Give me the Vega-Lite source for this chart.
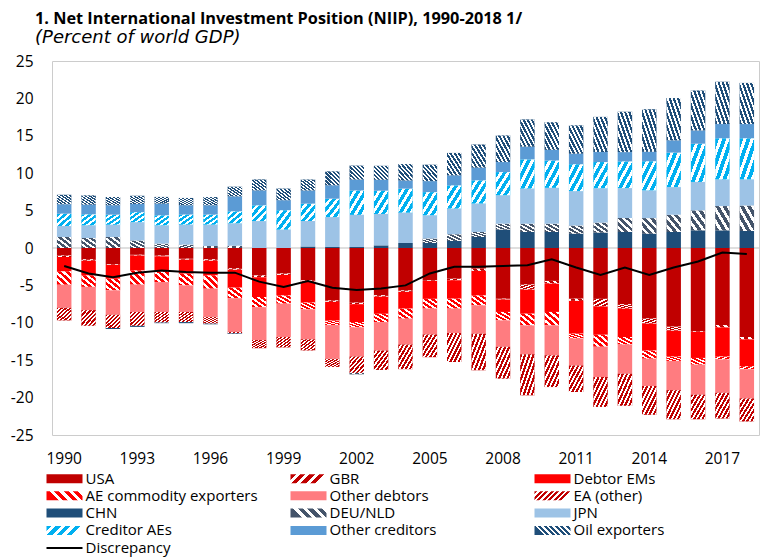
{
  "$schema": "https://vega.github.io/schema/vega-lite/v6.json",
  "width": 707,
  "height": 374,
  "autosize": "none",
  "padding": {"left": 52, "top": 61, "right": 1, "bottom": 122},
  "background": "white",
  "params": [
    {"name": "gGBR", "value": {"gradient": "linear", "x1": 0, "y1": 0, "x2": 1, "y2": 0.25, "stops": [{"offset":0,"color":"#C00000"},{"offset":0.1375,"color":"#C00000"},{"offset":0.1375,"color":"#ffffff"},{"offset":0.25,"color":"#ffffff"},{"offset":0.25,"color":"#C00000"},{"offset":0.3875,"color":"#C00000"},{"offset":0.3875,"color":"#ffffff"},{"offset":0.5,"color":"#ffffff"},{"offset":0.5,"color":"#C00000"},{"offset":0.6375,"color":"#C00000"},{"offset":0.6375,"color":"#ffffff"},{"offset":0.75,"color":"#ffffff"},{"offset":0.75,"color":"#C00000"},{"offset":0.8875,"color":"#C00000"},{"offset":0.8875,"color":"#ffffff"},{"offset":1,"color":"#ffffff"}]}},
    {"name": "gCAE", "value": {"gradient": "linear", "x1": 0, "y1": 0, "x2": 1, "y2": 0.25, "stops": [{"offset":0,"color":"#00B0F0"},{"offset":0.1375,"color":"#00B0F0"},{"offset":0.1375,"color":"#ffffff"},{"offset":0.25,"color":"#ffffff"},{"offset":0.25,"color":"#00B0F0"},{"offset":0.3875,"color":"#00B0F0"},{"offset":0.3875,"color":"#ffffff"},{"offset":0.5,"color":"#ffffff"},{"offset":0.5,"color":"#00B0F0"},{"offset":0.6375,"color":"#00B0F0"},{"offset":0.6375,"color":"#ffffff"},{"offset":0.75,"color":"#ffffff"},{"offset":0.75,"color":"#00B0F0"},{"offset":0.8875,"color":"#00B0F0"},{"offset":0.8875,"color":"#ffffff"},{"offset":1,"color":"#ffffff"}]}},
    {"name": "gAEC", "value": {"gradient": "linear", "x1": 0, "y1": 0.25, "x2": 1, "y2": 0, "stops": [{"offset":0,"color":"#FF0000"},{"offset":0.1375,"color":"#FF0000"},{"offset":0.1375,"color":"#ffffff"},{"offset":0.25,"color":"#ffffff"},{"offset":0.25,"color":"#FF0000"},{"offset":0.3875,"color":"#FF0000"},{"offset":0.3875,"color":"#ffffff"},{"offset":0.5,"color":"#ffffff"},{"offset":0.5,"color":"#FF0000"},{"offset":0.6375,"color":"#FF0000"},{"offset":0.6375,"color":"#ffffff"},{"offset":0.75,"color":"#ffffff"},{"offset":0.75,"color":"#FF0000"},{"offset":0.8875,"color":"#FF0000"},{"offset":0.8875,"color":"#ffffff"},{"offset":1,"color":"#ffffff"}]}},
    {"name": "gDEU", "value": {"gradient": "linear", "x1": 0, "y1": 0.25, "x2": 1, "y2": 0, "stops": [{"offset":0,"color":"#44546A"},{"offset":0.1375,"color":"#44546A"},{"offset":0.1375,"color":"#ffffff"},{"offset":0.25,"color":"#ffffff"},{"offset":0.25,"color":"#44546A"},{"offset":0.3875,"color":"#44546A"},{"offset":0.3875,"color":"#ffffff"},{"offset":0.5,"color":"#ffffff"},{"offset":0.5,"color":"#44546A"},{"offset":0.6375,"color":"#44546A"},{"offset":0.6375,"color":"#ffffff"},{"offset":0.75,"color":"#ffffff"},{"offset":0.75,"color":"#44546A"},{"offset":0.8875,"color":"#44546A"},{"offset":0.8875,"color":"#ffffff"},{"offset":1,"color":"#ffffff"}]}},
    {"name": "gEA", "value": {"gradient": "linear", "x1": 0, "y1": 0, "x2": 1, "y2": 0.25, "stops": [{"offset":0,"color":"#C00000"},{"offset":0.0786,"color":"#C00000"},{"offset":0.0786,"color":"#ffffff"},{"offset":0.1429,"color":"#ffffff"},{"offset":0.1429,"color":"#C00000"},{"offset":0.2214,"color":"#C00000"},{"offset":0.2214,"color":"#ffffff"},{"offset":0.2857,"color":"#ffffff"},{"offset":0.2857,"color":"#C00000"},{"offset":0.3643,"color":"#C00000"},{"offset":0.3643,"color":"#ffffff"},{"offset":0.4286,"color":"#ffffff"},{"offset":0.4286,"color":"#C00000"},{"offset":0.5071,"color":"#C00000"},{"offset":0.5071,"color":"#ffffff"},{"offset":0.5714,"color":"#ffffff"},{"offset":0.5714,"color":"#C00000"},{"offset":0.65,"color":"#C00000"},{"offset":0.65,"color":"#ffffff"},{"offset":0.7143,"color":"#ffffff"},{"offset":0.7143,"color":"#C00000"},{"offset":0.7929,"color":"#C00000"},{"offset":0.7929,"color":"#ffffff"},{"offset":0.8571,"color":"#ffffff"},{"offset":0.8571,"color":"#C00000"},{"offset":0.9357,"color":"#C00000"},{"offset":0.9357,"color":"#ffffff"},{"offset":1,"color":"#ffffff"}]}},
    {"name": "gOIL", "value": {"gradient": "linear", "x1": 0, "y1": 0.25, "x2": 1, "y2": 0, "stops": [{"offset":0,"color":"#1F4E79"},{"offset":0.0786,"color":"#1F4E79"},{"offset":0.0786,"color":"#ffffff"},{"offset":0.1429,"color":"#ffffff"},{"offset":0.1429,"color":"#1F4E79"},{"offset":0.2214,"color":"#1F4E79"},{"offset":0.2214,"color":"#ffffff"},{"offset":0.2857,"color":"#ffffff"},{"offset":0.2857,"color":"#1F4E79"},{"offset":0.3643,"color":"#1F4E79"},{"offset":0.3643,"color":"#ffffff"},{"offset":0.4286,"color":"#ffffff"},{"offset":0.4286,"color":"#1F4E79"},{"offset":0.5071,"color":"#1F4E79"},{"offset":0.5071,"color":"#ffffff"},{"offset":0.5714,"color":"#ffffff"},{"offset":0.5714,"color":"#1F4E79"},{"offset":0.65,"color":"#1F4E79"},{"offset":0.65,"color":"#ffffff"},{"offset":0.7143,"color":"#ffffff"},{"offset":0.7143,"color":"#1F4E79"},{"offset":0.7929,"color":"#1F4E79"},{"offset":0.7929,"color":"#ffffff"},{"offset":0.8571,"color":"#ffffff"},{"offset":0.8571,"color":"#1F4E79"},{"offset":0.9357,"color":"#1F4E79"},{"offset":0.9357,"color":"#ffffff"},{"offset":1,"color":"#ffffff"}]}},
    {"name": "gDISC", "value": {"gradient": "linear", "x1": 0, "y1": 0, "x2": 0, "y2": 1, "stops": [{"offset":0,"color":"rgba(255,255,255,0)"},{"offset":0.39,"color":"rgba(255,255,255,0)"},{"offset":0.39,"color":"#000000"},{"offset":0.61,"color":"#000000"},{"offset":0.61,"color":"rgba(255,255,255,0)"},{"offset":1,"color":"rgba(255,255,255,0)"}]}}
  ],
  "title": {
    "text": "1. Net International Investment Position (NIIP), 1990-2018  1/",
    "subtitle": "\u00a0\u00a0(Percent of world GDP)",
    "anchor": "start",
    "frame": "group",
    "dx": -17,
    "offset": 7,
    "font": "Open Sans",
    "fontSize": 16.3,
    "fontWeight": "bold",
    "color": "#000000",
    "subtitleFont": "DejaVu Sans",
    "subtitleFontSize": 18,
    "subtitleFontStyle": "italic",
    "subtitleColor": "#000000",
    "subtitlePadding": 2
  },
  "config": {
    "view": {"stroke": "#CCCCCC", "strokeWidth": 1},
    "axis": {"labelFont": "Open Sans", "labelFontSize": 15.5, "labelColor": "#000000", "ticks": false, "tickSize": 0, "domain": false, "grid": false, "title": null}
  },
  "data": {"values": [
{"year":1990,"series":"USA","value":-1.0},{"year":1990,"series":"GBR","value":-0.2},{"year":1990,"series":"Debtor EMs","value":-1.9},{"year":1990,"series":"AE commodity exporters","value":-1.8},{"year":1990,"series":"Other debtors","value":-3.1},{"year":1990,"series":"EA (other)","value":-1.7},{"year":1990,"series":"CHN","value":0},{"year":1990,"series":"DEU/NLD","value":1.47},{"year":1990,"series":"JPN","value":1.47},{"year":1990,"series":"Creditor AEs","value":1.65},{"year":1990,"series":"Other creditors","value":1.25},{"year":1990,"series":"Oil exporters","value":1.29},{"year":1990,"series":"Discrepancy","value":-2.4},
{"year":1991,"series":"USA","value":-1.5},{"year":1991,"series":"GBR","value":-0.2},{"year":1991,"series":"Debtor EMs","value":-1.95},{"year":1991,"series":"AE commodity exporters","value":-1.55},{"year":1991,"series":"Other debtors","value":-3.1},{"year":1991,"series":"EA (other)","value":-2.1},{"year":1991,"series":"CHN","value":0},{"year":1991,"series":"DEU/NLD","value":1.34},{"year":1991,"series":"JPN","value":1.69},{"year":1991,"series":"Creditor AEs","value":1.47},{"year":1991,"series":"Other creditors","value":1.29},{"year":1991,"series":"Oil exporters","value":1.25},{"year":1991,"series":"Discrepancy","value":-3.4},
{"year":1992,"series":"USA","value":-2.14},{"year":1992,"series":"GBR","value":-0.1},{"year":1992,"series":"Debtor EMs","value":-1.86},{"year":1992,"series":"AE commodity exporters","value":-1.56},{"year":1992,"series":"Other debtors","value":-3.25},{"year":1992,"series":"EA (other)","value":-1.78},{"year":1992,"series":"CHN","value":-0.15},{"year":1992,"series":"DEU/NLD","value":1.47},{"year":1992,"series":"JPN","value":1.65},{"year":1992,"series":"Creditor AEs","value":1.34},{"year":1992,"series":"Other creditors","value":1.25},{"year":1992,"series":"Oil exporters","value":1.11},{"year":1992,"series":"Discrepancy","value":-3.9},
{"year":1993,"series":"USA","value":-0.9},{"year":1993,"series":"GBR","value":-0.1},{"year":1993,"series":"Debtor EMs","value":-2.0},{"year":1993,"series":"AE commodity exporters","value":-1.9},{"year":1993,"series":"Other debtors","value":-3.65},{"year":1993,"series":"EA (other)","value":-1.85},{"year":1993,"series":"CHN","value":-0.15},{"year":1993,"series":"DEU/NLD","value":1.0},{"year":1993,"series":"JPN","value":2.45},{"year":1993,"series":"Creditor AEs","value":1.34},{"year":1993,"series":"Other creditors","value":1.1},{"year":1993,"series":"Oil exporters","value":1.1},{"year":1993,"series":"Discrepancy","value":-3.3},
{"year":1994,"series":"USA","value":-1.0},{"year":1994,"series":"GBR","value":-0.1},{"year":1994,"series":"Debtor EMs","value":-1.85},{"year":1994,"series":"AE commodity exporters","value":-1.6},{"year":1994,"series":"Other debtors","value":-4.0},{"year":1994,"series":"EA (other)","value":-1.4},{"year":1994,"series":"CHN","value":-0.1},{"year":1994,"series":"DEU/NLD","value":0.58},{"year":1994,"series":"JPN","value":2.45},{"year":1994,"series":"Creditor AEs","value":1.34},{"year":1994,"series":"Other creditors","value":1.56},{"year":1994,"series":"Oil exporters","value":0.9},{"year":1994,"series":"Discrepancy","value":-3.0},
{"year":1995,"series":"USA","value":-1.43},{"year":1995,"series":"GBR","value":-0.13},{"year":1995,"series":"Debtor EMs","value":-1.87},{"year":1995,"series":"AE commodity exporters","value":-1.57},{"year":1995,"series":"Other debtors","value":-3.55},{"year":1995,"series":"EA (other)","value":-1.35},{"year":1995,"series":"CHN","value":-0.15},{"year":1995,"series":"DEU/NLD","value":0.45},{"year":1995,"series":"JPN","value":2.67},{"year":1995,"series":"Creditor AEs","value":1.34},{"year":1995,"series":"Other creditors","value":1.25},{"year":1995,"series":"Oil exporters","value":0.98},{"year":1995,"series":"Discrepancy","value":-3.2},
{"year":1996,"series":"USA","value":-1.5},{"year":1996,"series":"GBR","value":-0.2},{"year":1996,"series":"Debtor EMs","value":-1.95},{"year":1996,"series":"AE commodity exporters","value":-1.79},{"year":1996,"series":"Other debtors","value":-3.76},{"year":1996,"series":"EA (other)","value":-0.9},{"year":1996,"series":"CHN","value":-0.1},{"year":1996,"series":"DEU/NLD","value":0.27},{"year":1996,"series":"JPN","value":2.85},{"year":1996,"series":"Creditor AEs","value":1.34},{"year":1996,"series":"Other creditors","value":1.25},{"year":1996,"series":"Oil exporters","value":1.1},{"year":1996,"series":"Discrepancy","value":-3.3},
{"year":1997,"series":"USA","value":-2.7},{"year":1997,"series":"GBR","value":-0.2},{"year":1997,"series":"Debtor EMs","value":-2.4},{"year":1997,"series":"AE commodity exporters","value":-1.4},{"year":1997,"series":"Other debtors","value":-4.5},{"year":1997,"series":"EA (other)","value":-0.2},{"year":1997,"series":"CHN","value":-0.1},{"year":1997,"series":"DEU/NLD","value":0.3},{"year":1997,"series":"JPN","value":3.0},{"year":1997,"series":"Creditor AEs","value":1.6},{"year":1997,"series":"Other creditors","value":2.0},{"year":1997,"series":"Oil exporters","value":1.3},{"year":1997,"series":"Discrepancy","value":-3.3},
{"year":1998,"series":"USA","value":-3.65},{"year":1998,"series":"GBR","value":-0.25},{"year":1998,"series":"Debtor EMs","value":-2.65},{"year":1998,"series":"AE commodity exporters","value":-1.35},{"year":1998,"series":"Other debtors","value":-4.4},{"year":1998,"series":"EA (other)","value":-1.1},{"year":1998,"series":"CHN","value":0},{"year":1998,"series":"DEU/NLD","value":0},{"year":1998,"series":"JPN","value":3.6},{"year":1998,"series":"Creditor AEs","value":2.1},{"year":1998,"series":"Other creditors","value":2.0},{"year":1998,"series":"Oil exporters","value":1.47},{"year":1998,"series":"Discrepancy","value":-4.5},
{"year":1999,"series":"USA","value":-3.4},{"year":1999,"series":"GBR","value":-0.2},{"year":1999,"series":"Debtor EMs","value":-2.73},{"year":1999,"series":"AE commodity exporters","value":-1.11},{"year":1999,"series":"Other debtors","value":-4.46},{"year":1999,"series":"EA (other)","value":-1.4},{"year":1999,"series":"CHN","value":0},{"year":1999,"series":"DEU/NLD","value":0},{"year":1999,"series":"JPN","value":2.45},{"year":1999,"series":"Creditor AEs","value":2.6},{"year":1999,"series":"Other creditors","value":1.34},{"year":1999,"series":"Oil exporters","value":1.56},{"year":1999,"series":"Discrepancy","value":-5.2},
{"year":2000,"series":"USA","value":-4.3},{"year":2000,"series":"GBR","value":-0.2},{"year":2000,"series":"Debtor EMs","value":-2.8},{"year":2000,"series":"AE commodity exporters","value":-0.9},{"year":2000,"series":"Other debtors","value":-4.0},{"year":2000,"series":"EA (other)","value":-1.5},{"year":2000,"series":"CHN","value":0.2},{"year":2000,"series":"DEU/NLD","value":0},{"year":2000,"series":"JPN","value":3.4},{"year":2000,"series":"Creditor AEs","value":2.3},{"year":2000,"series":"Other creditors","value":1.8},{"year":2000,"series":"Oil exporters","value":1.45},{"year":2000,"series":"Discrepancy","value":-4.4},
{"year":2001,"series":"USA","value":-7.0},{"year":2001,"series":"GBR","value":-0.2},{"year":2001,"series":"Debtor EMs","value":-2.5},{"year":2001,"series":"AE commodity exporters","value":-0.6},{"year":2001,"series":"Other debtors","value":-4.5},{"year":2001,"series":"EA (other)","value":-1.1},{"year":2001,"series":"CHN","value":0.13},{"year":2001,"series":"DEU/NLD","value":0},{"year":2001,"series":"JPN","value":4.0},{"year":2001,"series":"Creditor AEs","value":2.45},{"year":2001,"series":"Other creditors","value":1.8},{"year":2001,"series":"Oil exporters","value":1.87},{"year":2001,"series":"Discrepancy","value":-5.3},
{"year":2002,"series":"USA","value":-7.3},{"year":2002,"series":"GBR","value":-0.2},{"year":2002,"series":"Debtor EMs","value":-2.4},{"year":2002,"series":"AE commodity exporters","value":-0.7},{"year":2002,"series":"Other debtors","value":-3.9},{"year":2002,"series":"EA (other)","value":-2.2},{"year":2002,"series":"CHN","value":0.13},{"year":2002,"series":"DEU/NLD","value":-0.2},{"year":2002,"series":"JPN","value":4.3},{"year":2002,"series":"Creditor AEs","value":3.25},{"year":2002,"series":"Other creditors","value":1.47},{"year":2002,"series":"Oil exporters","value":1.87},{"year":2002,"series":"Discrepancy","value":-5.6},
{"year":2003,"series":"USA","value":-6.3},{"year":2003,"series":"GBR","value":-0.2},{"year":2003,"series":"Debtor EMs","value":-2.3},{"year":2003,"series":"AE commodity exporters","value":-1.1},{"year":2003,"series":"Other debtors","value":-3.8},{"year":2003,"series":"EA (other)","value":-2.6},{"year":2003,"series":"CHN","value":0.35},{"year":2003,"series":"DEU/NLD","value":0},{"year":2003,"series":"JPN","value":4.2},{"year":2003,"series":"Creditor AEs","value":3.1},{"year":2003,"series":"Other creditors","value":1.47},{"year":2003,"series":"Oil exporters","value":1.87},{"year":2003,"series":"Discrepancy","value":-5.4},
{"year":2004,"series":"USA","value":-5.66},{"year":2004,"series":"GBR","value":-0.2},{"year":2004,"series":"Debtor EMs","value":-2.24},{"year":2004,"series":"AE commodity exporters","value":-1.35},{"year":2004,"series":"Other debtors","value":-3.45},{"year":2004,"series":"EA (other)","value":-3.3},{"year":2004,"series":"CHN","value":0.67},{"year":2004,"series":"DEU/NLD","value":0},{"year":2004,"series":"JPN","value":4.05},{"year":2004,"series":"Creditor AEs","value":3.2},{"year":2004,"series":"Other creditors","value":1.1},{"year":2004,"series":"Oil exporters","value":2.2},{"year":2004,"series":"Discrepancy","value":-5.0},
{"year":2005,"series":"USA","value":-4.3},{"year":2005,"series":"GBR","value":-0.1},{"year":2005,"series":"Debtor EMs","value":-2.4},{"year":2005,"series":"AE commodity exporters","value":-1.3},{"year":2005,"series":"Other debtors","value":-3.45},{"year":2005,"series":"EA (other)","value":-3.05},{"year":2005,"series":"CHN","value":0.67},{"year":2005,"series":"DEU/NLD","value":0.6},{"year":2005,"series":"JPN","value":3.1},{"year":2005,"series":"Creditor AEs","value":3.1},{"year":2005,"series":"Other creditors","value":1.47},{"year":2005,"series":"Oil exporters","value":2.2},{"year":2005,"series":"Discrepancy","value":-3.4},
{"year":2006,"series":"USA","value":-4.1},{"year":2006,"series":"GBR","value":-0.2},{"year":2006,"series":"Debtor EMs","value":-2.47},{"year":2006,"series":"AE commodity exporters","value":-1.33},{"year":2006,"series":"Other debtors","value":-3.26},{"year":2006,"series":"EA (other)","value":-3.88},{"year":2006,"series":"CHN","value":0.94},{"year":2006,"series":"DEU/NLD","value":0.9},{"year":2006,"series":"JPN","value":3.43},{"year":2006,"series":"Creditor AEs","value":3.1},{"year":2006,"series":"Other creditors","value":1.34},{"year":2006,"series":"Oil exporters","value":3.0},{"year":2006,"series":"Discrepancy","value":-2.5},
{"year":2007,"series":"USA","value":-2.76},{"year":2007,"series":"GBR","value":-0.3},{"year":2007,"series":"Debtor EMs","value":-3.27},{"year":2007,"series":"AE commodity exporters","value":-1.33},{"year":2007,"series":"Other debtors","value":-3.79},{"year":2007,"series":"EA (other)","value":-4.9},{"year":2007,"series":"CHN","value":1.47},{"year":2007,"series":"DEU/NLD","value":0.67},{"year":2007,"series":"JPN","value":3.8},{"year":2007,"series":"Creditor AEs","value":3.1},{"year":2007,"series":"Other creditors","value":1.7},{"year":2007,"series":"Oil exporters","value":3.1},{"year":2007,"series":"Discrepancy","value":-2.5},
{"year":2008,"series":"USA","value":-6.77},{"year":2008,"series":"GBR","value":-0.1},{"year":2008,"series":"Debtor EMs","value":-1.68},{"year":2008,"series":"AE commodity exporters","value":-1.12},{"year":2008,"series":"Other debtors","value":-3.53},{"year":2008,"series":"EA (other)","value":-4.27},{"year":2008,"series":"CHN","value":2.45},{"year":2008,"series":"DEU/NLD","value":0.8},{"year":2008,"series":"JPN","value":3.8},{"year":2008,"series":"Creditor AEs","value":3.1},{"year":2008,"series":"Other creditors","value":1.34},{"year":2008,"series":"Oil exporters","value":3.56},{"year":2008,"series":"Discrepancy","value":-2.4},
{"year":2009,"series":"USA","value":-4.86},{"year":2009,"series":"GBR","value":-0.7},{"year":2009,"series":"Debtor EMs","value":-3.22},{"year":2009,"series":"AE commodity exporters","value":-1.56},{"year":2009,"series":"Other debtors","value":-3.86},{"year":2009,"series":"EA (other)","value":-5.5},{"year":2009,"series":"CHN","value":2.14},{"year":2009,"series":"DEU/NLD","value":1.1},{"year":2009,"series":"JPN","value":4.7},{"year":2009,"series":"Creditor AEs","value":3.9},{"year":2009,"series":"Other creditors","value":1.7},{"year":2009,"series":"Oil exporters","value":3.65},{"year":2009,"series":"Discrepancy","value":-2.3},
{"year":2010,"series":"USA","value":-4.4},{"year":2010,"series":"GBR","value":-0.35},{"year":2010,"series":"Debtor EMs","value":-3.8},{"year":2010,"series":"AE commodity exporters","value":-1.79},{"year":2010,"series":"Other debtors","value":-4.0},{"year":2010,"series":"EA (other)","value":-4.25},{"year":2010,"series":"CHN","value":2.14},{"year":2010,"series":"DEU/NLD","value":1.1},{"year":2010,"series":"JPN","value":4.8},{"year":2010,"series":"Creditor AEs","value":3.65},{"year":2010,"series":"Other creditors","value":1.43},{"year":2010,"series":"Oil exporters","value":3.7},{"year":2010,"series":"Discrepancy","value":-1.5},
{"year":2011,"series":"USA","value":-6.77},{"year":2011,"series":"GBR","value":-0.3},{"year":2011,"series":"Debtor EMs","value":-4.38},{"year":2011,"series":"AE commodity exporters","value":-0.65},{"year":2011,"series":"Other debtors","value":-3.6},{"year":2011,"series":"EA (other)","value":-3.55},{"year":2011,"series":"CHN","value":1.9},{"year":2011,"series":"DEU/NLD","value":1.1},{"year":2011,"series":"JPN","value":4.6},{"year":2011,"series":"Creditor AEs","value":3.6},{"year":2011,"series":"Other creditors","value":1.4},{"year":2011,"series":"Oil exporters","value":3.8},{"year":2011,"series":"Discrepancy","value":-2.6},
{"year":2012,"series":"USA","value":-6.8},{"year":2012,"series":"GBR","value":-1.0},{"year":2012,"series":"Debtor EMs","value":-3.8},{"year":2012,"series":"AE commodity exporters","value":-1.6},{"year":2012,"series":"Other debtors","value":-4.05},{"year":2012,"series":"EA (other)","value":-4.0},{"year":2012,"series":"CHN","value":2.05},{"year":2012,"series":"DEU/NLD","value":1.34},{"year":2012,"series":"JPN","value":4.6},{"year":2012,"series":"Creditor AEs","value":3.5},{"year":2012,"series":"Other creditors","value":1.34},{"year":2012,"series":"Oil exporters","value":4.7},{"year":2012,"series":"Discrepancy","value":-3.6},
{"year":2013,"series":"USA","value":-7.5},{"year":2013,"series":"GBR","value":-0.6},{"year":2013,"series":"Debtor EMs","value":-3.8},{"year":2013,"series":"AE commodity exporters","value":-1.0},{"year":2013,"series":"Other debtors","value":-3.9},{"year":2013,"series":"EA (other)","value":-4.3},{"year":2013,"series":"CHN","value":2.14},{"year":2013,"series":"DEU/NLD","value":1.87},{"year":2013,"series":"JPN","value":4.0},{"year":2013,"series":"Creditor AEs","value":3.56},{"year":2013,"series":"Other creditors","value":1.25},{"year":2013,"series":"Oil exporters","value":5.4},{"year":2013,"series":"Discrepancy","value":-2.6},
{"year":2014,"series":"USA","value":-9.4},{"year":2014,"series":"GBR","value":-0.7},{"year":2014,"series":"Debtor EMs","value":-3.6},{"year":2014,"series":"AE commodity exporters","value":-1.1},{"year":2014,"series":"Other debtors","value":-3.65},{"year":2014,"series":"EA (other)","value":-3.85},{"year":2014,"series":"CHN","value":1.9},{"year":2014,"series":"DEU/NLD","value":2.1},{"year":2014,"series":"JPN","value":3.7},{"year":2014,"series":"Creditor AEs","value":3.9},{"year":2014,"series":"Other creditors","value":1.25},{"year":2014,"series":"Oil exporters","value":5.7},{"year":2014,"series":"Discrepancy","value":-3.6},
{"year":2015,"series":"USA","value":-10.5},{"year":2015,"series":"GBR","value":-0.55},{"year":2015,"series":"Debtor EMs","value":-3.45},{"year":2015,"series":"AE commodity exporters","value":-0.6},{"year":2015,"series":"Other debtors","value":-3.9},{"year":2015,"series":"EA (other)","value":-3.9},{"year":2015,"series":"CHN","value":2.14},{"year":2015,"series":"DEU/NLD","value":2.3},{"year":2015,"series":"JPN","value":3.7},{"year":2015,"series":"Creditor AEs","value":4.6},{"year":2015,"series":"Other creditors","value":1.65},{"year":2015,"series":"Oil exporters","value":5.66},{"year":2015,"series":"Discrepancy","value":-2.6},
{"year":2016,"series":"USA","value":-11.1},{"year":2016,"series":"GBR","value":-0.1},{"year":2016,"series":"Debtor EMs","value":-3.5},{"year":2016,"series":"AE commodity exporters","value":-0.9},{"year":2016,"series":"Other debtors","value":-4.0},{"year":2016,"series":"EA (other)","value":-3.3},{"year":2016,"series":"CHN","value":2.36},{"year":2016,"series":"DEU/NLD","value":2.67},{"year":2016,"series":"JPN","value":3.8},{"year":2016,"series":"Creditor AEs","value":5.1},{"year":2016,"series":"Other creditors","value":1.78},{"year":2016,"series":"Oil exporters","value":5.35},{"year":2016,"series":"Discrepancy","value":-1.8},
{"year":2017,"series":"USA","value":-10.3},{"year":2017,"series":"GBR","value":-0.3},{"year":2017,"series":"Debtor EMs","value":-3.9},{"year":2017,"series":"AE commodity exporters","value":-0.4},{"year":2017,"series":"Other debtors","value":-4.45},{"year":2017,"series":"EA (other)","value":-3.45},{"year":2017,"series":"CHN","value":2.36},{"year":2017,"series":"DEU/NLD","value":3.25},{"year":2017,"series":"JPN","value":3.56},{"year":2017,"series":"Creditor AEs","value":5.5},{"year":2017,"series":"Other creditors","value":1.9},{"year":2017,"series":"Oil exporters","value":5.66},{"year":2017,"series":"Discrepancy","value":-0.6},
{"year":2018,"series":"USA","value":-11.9},{"year":2018,"series":"GBR","value":-0.3},{"year":2018,"series":"Debtor EMs","value":-3.6},{"year":2018,"series":"AE commodity exporters","value":-0.4},{"year":2018,"series":"Other debtors","value":-3.9},{"year":2018,"series":"EA (other)","value":-3.1},{"year":2018,"series":"CHN","value":2.27},{"year":2018,"series":"DEU/NLD","value":3.4},{"year":2018,"series":"JPN","value":3.5},{"year":2018,"series":"Creditor AEs","value":5.5},{"year":2018,"series":"Other creditors","value":1.9},{"year":2018,"series":"Oil exporters","value":5.5},{"year":2018,"series":"Discrepancy","value":-0.8}
  ]},
  "layer": [
    {
      "data": {"values": [{"zero": 0}]},
      "mark": {"type": "rule", "color": "#BFBFBF", "strokeWidth": 1},
      "encoding": {"y": {"field": "zero", "type": "quantitative", "scale": {"domain": [-25, 25], "nice": false}, "axis": {"values": [-25,-20,-15,-10,-5,0,5,10,15,20,25], "labelExpr": "datum.value + ''", "labelPadding": 19}}}
    },
    {
      "transform": [
        {"filter": "datum.series !== 'Discrepancy'"},
        {"stack": "value", "groupby": ["year"], "as": ["y0", "y1"]}
      ],
      "encoding": {
        "x": {"field": "year", "type": "ordinal", "scale": {"paddingInner": 0.405, "paddingOuter": 0.2025}, "axis": {"values": [1990,1993,1996,1999,2002,2005,2008,2011,2014,2017], "labelAngle": 0, "labelPadding": 16}},
        "y": {"field": "y0", "type": "quantitative", "scale": {"domain": [-25, 25], "nice": false}, "axis": {"values": [-25,-20,-15,-10,-5,0,5,10,15,20,25], "labelExpr": "datum.value + ''", "labelPadding": 19}},
        "y2": {"field": "y1"}
      },
      "layer": [
        {
          "mark": {"type": "bar"},
          "encoding": {
            "color": {
              "field": "series", "type": "nominal",
              "scale": {
                "domain": ["USA","GBR","Debtor EMs","AE commodity exporters","Other debtors","EA (other)","CHN","DEU/NLD","JPN","Creditor AEs","Other creditors","Oil exporters"],
                "range": ["#C00000","#C00000","#FF0000","#FF0000","#FF7C80","#C00000","#1F4E79","#44546A","#9DC3E6","#00B0F0","#5B9BD5","#1F4E79"]
              },
              "legend": null
            }
          }
        },
        {
          "transform": [{"filter": {"field": "series", "oneOf": ["GBR", "Creditor AEs"]}}],
          "mark": {"type": "bar", "fill": {"gradient": "linear", "x1": 0, "y1": 0, "x2": 1, "y2": 1, "stops": [{"offset":0,"color":"rgba(255,255,255,0)"},{"offset":0.1375,"color":"rgba(255,255,255,0)"},{"offset":0.1375,"color":"#ffffff"},{"offset":0.25,"color":"#ffffff"},{"offset":0.25,"color":"rgba(255,255,255,0)"},{"offset":0.3875,"color":"rgba(255,255,255,0)"},{"offset":0.3875,"color":"#ffffff"},{"offset":0.5,"color":"#ffffff"},{"offset":0.5,"color":"rgba(255,255,255,0)"},{"offset":0.6375,"color":"rgba(255,255,255,0)"},{"offset":0.6375,"color":"#ffffff"},{"offset":0.75,"color":"#ffffff"},{"offset":0.75,"color":"rgba(255,255,255,0)"},{"offset":0.8875,"color":"rgba(255,255,255,0)"},{"offset":0.8875,"color":"#ffffff"},{"offset":1,"color":"#ffffff"}]}}
        },
        {
          "transform": [{"filter": {"field": "series", "oneOf": ["AE commodity exporters", "DEU/NLD"]}}],
          "mark": {"type": "bar", "fill": {"gradient": "linear", "x1": 0, "y1": 1, "x2": 1, "y2": 0, "stops": [{"offset":0,"color":"rgba(255,255,255,0)"},{"offset":0.1375,"color":"rgba(255,255,255,0)"},{"offset":0.1375,"color":"#ffffff"},{"offset":0.25,"color":"#ffffff"},{"offset":0.25,"color":"rgba(255,255,255,0)"},{"offset":0.3875,"color":"rgba(255,255,255,0)"},{"offset":0.3875,"color":"#ffffff"},{"offset":0.5,"color":"#ffffff"},{"offset":0.5,"color":"rgba(255,255,255,0)"},{"offset":0.6375,"color":"rgba(255,255,255,0)"},{"offset":0.6375,"color":"#ffffff"},{"offset":0.75,"color":"#ffffff"},{"offset":0.75,"color":"rgba(255,255,255,0)"},{"offset":0.8875,"color":"rgba(255,255,255,0)"},{"offset":0.8875,"color":"#ffffff"},{"offset":1,"color":"#ffffff"}]}}
        },
        {
          "transform": [{"filter": {"field": "series", "oneOf": ["EA (other)"]}}],
          "mark": {"type": "bar", "fill": {"gradient": "linear", "x1": 0, "y1": 0, "x2": 1, "y2": 1, "stops": [{"offset":0,"color":"rgba(255,255,255,0)"},{"offset":0.0786,"color":"rgba(255,255,255,0)"},{"offset":0.0786,"color":"#ffffff"},{"offset":0.1429,"color":"#ffffff"},{"offset":0.1429,"color":"rgba(255,255,255,0)"},{"offset":0.2214,"color":"rgba(255,255,255,0)"},{"offset":0.2214,"color":"#ffffff"},{"offset":0.2857,"color":"#ffffff"},{"offset":0.2857,"color":"rgba(255,255,255,0)"},{"offset":0.3643,"color":"rgba(255,255,255,0)"},{"offset":0.3643,"color":"#ffffff"},{"offset":0.4286,"color":"#ffffff"},{"offset":0.4286,"color":"rgba(255,255,255,0)"},{"offset":0.5071,"color":"rgba(255,255,255,0)"},{"offset":0.5071,"color":"#ffffff"},{"offset":0.5714,"color":"#ffffff"},{"offset":0.5714,"color":"rgba(255,255,255,0)"},{"offset":0.65,"color":"rgba(255,255,255,0)"},{"offset":0.65,"color":"#ffffff"},{"offset":0.7143,"color":"#ffffff"},{"offset":0.7143,"color":"rgba(255,255,255,0)"},{"offset":0.7929,"color":"rgba(255,255,255,0)"},{"offset":0.7929,"color":"#ffffff"},{"offset":0.8571,"color":"#ffffff"},{"offset":0.8571,"color":"rgba(255,255,255,0)"},{"offset":0.9357,"color":"rgba(255,255,255,0)"},{"offset":0.9357,"color":"#ffffff"},{"offset":1,"color":"#ffffff"}]}}
        },
        {
          "transform": [{"filter": {"field": "series", "oneOf": ["Oil exporters"]}}],
          "mark": {"type": "bar", "fill": {"gradient": "linear", "x1": 0, "y1": 1, "x2": 1, "y2": 0, "stops": [{"offset":0,"color":"rgba(255,255,255,0)"},{"offset":0.0786,"color":"rgba(255,255,255,0)"},{"offset":0.0786,"color":"#ffffff"},{"offset":0.1429,"color":"#ffffff"},{"offset":0.1429,"color":"rgba(255,255,255,0)"},{"offset":0.2214,"color":"rgba(255,255,255,0)"},{"offset":0.2214,"color":"#ffffff"},{"offset":0.2857,"color":"#ffffff"},{"offset":0.2857,"color":"rgba(255,255,255,0)"},{"offset":0.3643,"color":"rgba(255,255,255,0)"},{"offset":0.3643,"color":"#ffffff"},{"offset":0.4286,"color":"#ffffff"},{"offset":0.4286,"color":"rgba(255,255,255,0)"},{"offset":0.5071,"color":"rgba(255,255,255,0)"},{"offset":0.5071,"color":"#ffffff"},{"offset":0.5714,"color":"#ffffff"},{"offset":0.5714,"color":"rgba(255,255,255,0)"},{"offset":0.65,"color":"rgba(255,255,255,0)"},{"offset":0.65,"color":"#ffffff"},{"offset":0.7143,"color":"#ffffff"},{"offset":0.7143,"color":"rgba(255,255,255,0)"},{"offset":0.7929,"color":"rgba(255,255,255,0)"},{"offset":0.7929,"color":"#ffffff"},{"offset":0.8571,"color":"#ffffff"},{"offset":0.8571,"color":"rgba(255,255,255,0)"},{"offset":0.9357,"color":"rgba(255,255,255,0)"},{"offset":0.9357,"color":"#ffffff"},{"offset":1,"color":"#ffffff"}]}}
        }
      ]
    },
    {
      "transform": [{"filter": "datum.series === 'Discrepancy'"}],
      "mark": {"type": "line", "color": "#000000", "strokeWidth": 2},
      "encoding": {
        "x": {"field": "year", "type": "ordinal", "scale": {"paddingInner": 0.405, "paddingOuter": 0.2025}, "axis": {"values": [1990,1993,1996,1999,2002,2005,2008,2011,2014,2017], "labelAngle": 0, "labelPadding": 16}},
        "y": {"field": "value", "type": "quantitative", "scale": {"domain": [-25, 25], "nice": false}, "axis": {"values": [-25,-20,-15,-10,-5,0,5,10,15,20,25], "labelExpr": "datum.value + ''", "labelPadding": 19}}
      }
    },
    {
      "transform": [{"filter": "false"}],
      "mark": {"type": "bar"},
      "encoding": {
        "fill": {
          "field": "series", "type": "nominal",
          "scale": {
            "domain": ["USA","GBR","Debtor EMs","AE commodity exporters","Other debtors","EA (other)","CHN","DEU/NLD","JPN","Creditor AEs","Other creditors","Oil exporters","Discrepancy"],
            "range": ["#C00000", {"expr": "gGBR"}, "#FF0000", {"expr": "gAEC"}, "#FF7C80", {"expr": "gEA"}, "#1F4E79", {"expr": "gDEU"}, "#9DC3E6", {"expr": "gCAE"}, "#5B9BD5", {"expr": "gOIL"}, {"expr": "gDISC"}]
          },
          "legend": {
            "title": null,
            "orient": "none",
            "direction": "horizontal",
            "legendX": 5,
            "legendY": 410,
            "columns": 3,
            "gridAlign": "all",
            "columnPadding": 32,
            "rowPadding": 1.3,
            "symbolType": "M-4,-1H4V1H-4Z",
            "symbolSize": 81,
            "symbolStrokeWidth": 0,
            "symbolOpacity": 1,
            "labelOffset": 13.5,
            "labelFont": "Open Sans",
            "labelFontSize": 15,
            "labelColor": "#000000",
            "labelLimit": 300
          }
        }
      }
    }
  ]
}
